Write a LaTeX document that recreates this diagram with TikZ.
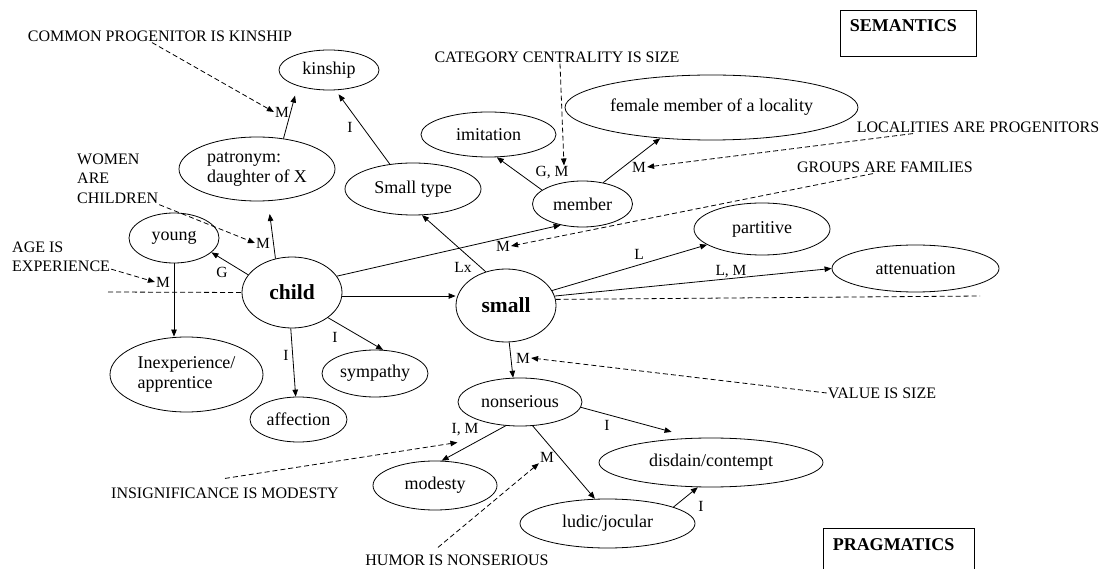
\documentclass[tikz,border=0pt]{standalone}
\usepackage{fontspec}
\setmainfont{Liberation Serif}
\usetikzlibrary{shapes.geometric,arrows.meta}
\tikzset{
  ell/.style={draw, ellipse, inner sep=0pt, line width=0.8pt, font=\fontsize{18}{20}\selectfont},
  bigell/.style={ell, font=\fontsize{21.5}{24}\selectfont\bfseries},
  lab/.style={inner sep=1pt, font=\fontsize{15.5}{17}\selectfont},
  ann/.style={inner sep=1pt, font=\fontsize{16}{19.5}\selectfont},
  arr/.style={-{Triangle[length=7pt,width=5.5pt]}, line width=0.8pt},
  dasharr/.style={arr, dash pattern=on 5pt off 3pt},
  dline/.style={line width=0.8pt, dash pattern=on 5pt off 3pt},
  boxnode/.style={draw, line width=0.9pt, inner sep=0pt}
}
\begin{document}
\begin{tikzpicture}[x=1pt,y=-1pt]
\fill[white] (0,0) rectangle (1101,569);
\useasboundingbox (0,0) rectangle (1101,569);

% boxes
\node[boxnode, minimum width=136pt, minimum height=46pt] (sembox) at (908,33) {};
\node[anchor=west, inner sep=0pt, font=\fontsize{18}{20}\selectfont\bfseries] (semtxt) at ([xshift=10pt,yshift=-16pt]sembox.north west) {SEMANTICS};
\node[boxnode, minimum width=151pt, minimum height=72pt] (pragbox) at (898.5,564) {};
\node[anchor=west, inner sep=0pt, font=\fontsize{18}{20}\selectfont\bfseries] (pragtxt) at ([xshift=10pt,yshift=-17pt]pragbox.north west) {PRAGMATICS};

% concept nodes
\node[ell, minimum width=100pt, minimum height=40pt] (kinship) at (329,70) {kinship};
\node[ell, minimum width=156pt, minimum height=64pt, align=left] (patronym) at (257,169) {patronym:\\daughter of X};
\node[ell, minimum width=136pt, minimum height=52pt] (smalltype) at (413,189) {Small type};
\node[ell, minimum width=135pt, minimum height=45pt] (imitation) at (488.5,134.5) {imitation};
\node[ell, minimum width=293pt, minimum height=65pt] (female) at (711.5,107.5) {female member of a locality};
\node[ell, minimum width=100pt, minimum height=46pt] (member) at (582.5,204) {member};
\node[ell, minimum width=90pt, minimum height=50pt] (young) at (174,238) {young};
\node[bigell, minimum width=100pt, minimum height=71pt] (child) at (292,292.5) {child};
\node[bigell, minimum width=100pt, minimum height=73pt] (small) at (506,305.5) {small};
\node[ell, minimum width=136pt, minimum height=52pt] (partitive) at (762,229) {partitive};
\node[ell, minimum width=167pt, minimum height=47pt] (atten) at (915.5,268.5) {attenuation};
\node[ell, minimum width=153pt, minimum height=75pt, align=left] (inexp) at (186.5,374.5) {Inexperience/\\apprentice};
\node[ell, minimum width=97pt, minimum height=45pt] (affection) at (298.5,419.5) {affection};
\node[ell, minimum width=106pt, minimum height=47pt] (sympathy) at (375,373.5) {sympathy};
\node[ell, minimum width=124pt, minimum height=48pt] (nons) at (520,402) {nonserious};
\node[ell, minimum width=224pt, minimum height=49pt] (disdain) at (711,462.5) {disdain/contempt};
\node[ell, minimum width=124pt, minimum height=49pt] (modesty) at (435,485.5) {modesty};
\node[ell, minimum width=175pt, minimum height=49pt] (ludic) at (607.5,523.5) {ludic/jocular};

% edge labels
\node[lab] (mk) at (282,112) {M};
\node[lab] (ik) at (350,127) {I};
\node[lab] (mc) at (263,243) {M};
\node[lab] (g) at (222,272) {G};
\node[lab] (my) at (163,282) {M};
\node[lab] (ia) at (286,355) {I};
\node[lab] (isy) at (335,337) {I};
\node[lab] (lx) at (463,267) {Lx};
\node[lab] (mg) at (503,246) {M};
\node[lab] (lp) at (639,254) {L};
\node[lab] (lm) at (731,272) {L, M};
\node[lab] (ms) at (523,358) {M};
\node[lab] (gm) at (552,173) {G, M};
\node[lab] (mf) at (639,167) {M};
\node[lab] (id) at (607,425) {I};
\node[lab] (im) at (465,430) {I, M};
\node[lab] (mh) at (547,457) {M};
\node[lab] (il) at (701,506) {I};

% annotations
\node[ann] (a1) at (160,36) {COMMON PROGENITOR IS KINSHIP};
\node[ann] (a2) at (557,57) {CATEGORY CENTRALITY IS SIZE};
\node[ann] (a3) at (978,127) {LOCALITIES ARE PROGENITORS};
\node[ann] (a4) at (885,167) {GROUPS ARE FAMILIES};
\node[ann, align=left, anchor=north west] (a5) at (76,152.5) {WOMEN\\ARE\\CHILDREN};
\node[ann, align=left, anchor=north west] (a6) at (11,240.5) {AGE IS\\EXPERIENCE};
\node[ann] (a7) at (882,393) {VALUE IS SIZE};
\node[ann] (a8) at (225,493) {INSIGNIFICANCE IS MODESTY};
\node[ann] (a9) at (457,560) {HUMOR IS NONSERIOUS};

% solid connectors
\draw[arr, shorten >=10pt] (patronym.49) -- (kinship.207);
\draw[arr, shorten >=5pt] (smalltype.133) -- (kinship.288);
\draw[arr, shorten >=13pt] (child.116) -- (patronym.289);
\draw[arr] (child.158) -- (young.339);
\draw[arr] (young.south) -- (young.south |- inexp.north);
\draw[arr] (child.268) -- (affection.97);
\draw[arr] (child.-35) -- (sympathy.71);
\draw[arr] (child.-4) -- (child.-4 -| small.west);
\draw[arr] (child.20) -- (member.224);
\draw[arr] (small.121) -- (smalltype.289);
\draw[arr] (member.161) -- (imitation.290);
\draw[arr] (member.46) -- (female.211);
\draw[arr] (small.18) -- (partitive.196);
\draw[arr] (small.11) -- (atten.west);
\draw[arr] (small.275) -- (nons.106);
\draw[arr, shorten >=23pt] (nons.355) -- (disdain.125);
\draw[arr] (nons.239) -- (modesty.75);
\draw[arr] (nons.298) -- (ludic.117);
\draw[arr] (ludic.14) -- (disdain.242);

% dashed metaphor connectors
\draw[dasharr] ([xshift=-8pt]a1.south) -- (mk.west);
\draw[dasharr] ([xshift=3pt]a2.south) -- ([xshift=12pt]gm.north);
\draw[dasharr] ([xshift=-65pt]a3.south) -- (mf.east);
\draw[dasharr] ([xshift=-12pt]a4.south) -- (mg.east);
\draw[dasharr] (a5.south east) -- (mc.west);
\draw[dasharr] ([yshift=4pt]a6.south east) -- (my.west);
\draw[dasharr] (a7.west) -- (ms.east);
\draw[dasharr] ([yshift=8pt]a8.north) -- ([xshift=7pt,yshift=-5pt]im.south west);
\draw[dasharr] ([xshift=-19pt,yshift=6pt]a9.north) -- (mh.south west);

% divider dashed lines
\coordinate (hl) at (108,292);
\coordinate (hr) at (980,296);
\draw[dline] (hl) -- (child.west);
\draw[dline] (small.7) -- (hr);
\end{tikzpicture}
\end{document}
